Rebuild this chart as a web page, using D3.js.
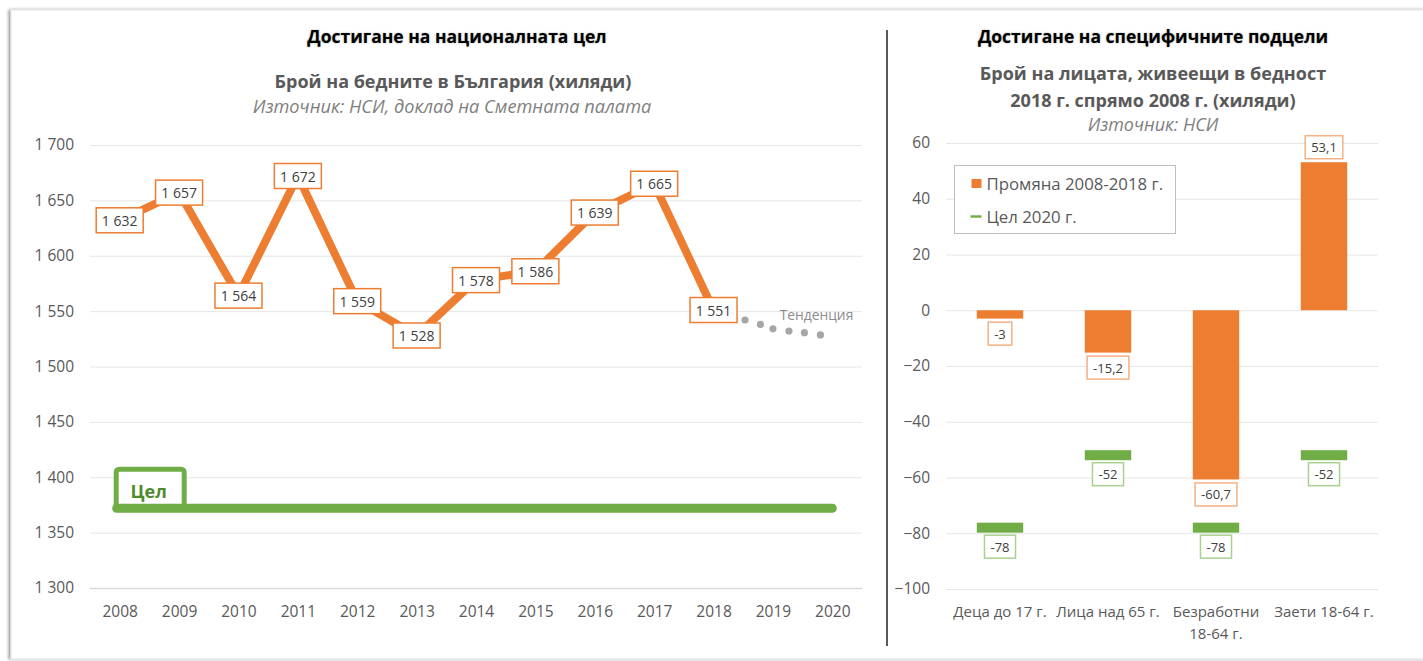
<!DOCTYPE html>
<html>
<head>
<meta charset="utf-8">
<script src="https://cdn.jsdelivr.net/npm/d3@7"></script>
<style>
    body { margin: 0; background: #ffffff; }
    svg { display: block; font-family: "Open Sans", sans-serif; }
    .main-title { font-weight: bold; fill: #000; text-shadow: 0 0 2px rgba(0,0,0,0.35); }
    .sub-title { font-weight: bold; fill: #595959; }
    .source { font-style: italic; fill: #7f7f7f; }
    .tick text { fill: #595959; }
</style>
</head>
<body>
<svg id="drawing"></svg>
<script>
// --- data: left chart (number of poor people, thousands)
const years = [2008, 2009, 2010, 2011, 2012, 2013, 2014, 2015, 2016, 2017, 2018, 2019, 2020];
const poor_years = [2008, 2009, 2010, 2011, 2012, 2013, 2014, 2015, 2016, 2017, 2018];
const poor_values = [1632, 1657, 1564, 1672, 1559, 1528, 1578, 1586, 1639, 1665, 1551];
const trend_years = [2018.53, 2018.79, 2019.0, 2019.27, 2019.53, 2019.8];
const trend_values = [1542, 1538, 1534, 1532, 1530.5, 1528.5];
const national_target = 1372;
const left_yticks = [1300, 1350, 1400, 1450, 1500, 1550, 1600, 1650, 1700];

// --- data: right chart (change 2018 vs 2008, thousands)
const groups = ['Деца до 17 г.', 'Лица над 65 г.', 'Безработни 18-64 г.', 'Заети 18-64 г.'];
const group_lines = [['Деца до 17 г.'], ['Лица над 65 г.'], ['Безработни', '18-64 г.'], ['Заети 18-64 г.']];
const change_values = [-3, -15.2, -60.7, 53.1];
const target_values = [-78, -52, -78, -52];
const right_yticks = [-100, -80, -60, -40, -20, 0, 20, 40, 60];

const ORANGE = '#ED7D31';
const GREEN = '#70AD47';
const GRID = '#e6e6e6';

const locale = d3.formatLocale({ decimal: ',', thousands: '\u00a0', grouping: [3], currency: ['', ''], minus: '-' });
const fmt_int = locale.format(',d');
const fmt_dec = v => String(v).replace('.', ',');

const svg = d3.select('#drawing').attr('width', 1423).attr('height', 661);

// card with a soft shadow
const defs = svg.append('defs');
const shadow = defs.append('filter').attr('id', 'shadow')
    .attr('x', '-5%').attr('y', '-5%').attr('width', '110%').attr('height', '110%');
shadow.append('feDropShadow').attr('dx', -2).attr('dy', 0).attr('stdDeviation', 1.5)
    .attr('flood-color', '#000').attr('flood-opacity', 0.4);

svg.append('rect')
    .attr('x', 11).attr('y', 10).attr('width', 1430).attr('height', 649)
    .attr('fill', '#fff').attr('stroke', '#e3e3e3')
    .attr('filter', 'url(#shadow)');

// divider
svg.append('line')
    .attr('x1', 887).attr('x2', 887).attr('y1', 30).attr('y2', 646)
    .attr('stroke', '#595959').attr('stroke-width', 2);

class LineChart {
    constructor(config) {
        this.config = {
            parent: config.parent,
            left: config.left,
            right: config.right,
            top: config.top,
            bottom: config.bottom
        };
        this.init();
    }

    init() {
        let self = this;
        self.chart = self.config.parent.append('g');

        self.xscale = d3.scaleLinear()
            .domain([years[0] - 0.5, years[years.length - 1] + 0.5])
            .range([self.config.left, self.config.right]);

        self.yscale = d3.scaleLinear()
            .domain([left_yticks[0], left_yticks[left_yticks.length - 1]])
            .range([self.config.bottom, self.config.top]);

        // titles
        self.chart.append('text').attr('class', 'main-title')
            .attr('x', 457).attr('y', 43).attr('text-anchor', 'middle')
            .style('font-size', '17.5px').text('Достигане на националната цел');
        self.chart.append('text').attr('class', 'sub-title')
            .attr('x', 453).attr('y', 88).attr('text-anchor', 'middle')
            .style('font-size', '18px').text('Брой на бедните в България (хиляди)');
        self.chart.append('text').attr('class', 'source')
            .attr('x', 452).attr('y', 113).attr('text-anchor', 'middle')
            .style('font-size', '18.2px').text('Източник: НСИ, доклад на Сметната палата');
    }

    render() {
        let self = this;
        const x = self.xscale, y = self.yscale;

        // grid + y labels
        const yaxis = d3.axisLeft(y)
            .tickValues(left_yticks)
            .tickSize(-(self.config.right - self.config.left))
            .tickPadding(16)
            .tickFormat(fmt_int);
        const yg = self.chart.append('g')
            .attr('transform', `translate(${self.config.left}, 0)`)
            .call(yaxis);
        yg.select('.domain').remove();
        yg.selectAll('.tick line').attr('stroke', d => d === left_yticks[0] ? '#d9d9d9' : GRID)
            .attr('stroke-width', d => d === left_yticks[0] ? 1.5 : 1);
        yg.selectAll('.tick text').style('font-size', '15.5px').style('font-family', '"Open Sans", sans-serif');

        // x labels
        const xaxis = d3.axisBottom(x)
            .tickValues(years)
            .tickSize(0)
            .tickPadding(18)
            .tickFormat(d3.format('d'));
        const xg = self.chart.append('g')
            .attr('transform', `translate(0, ${self.config.bottom})`)
            .call(xaxis);
        xg.select('.domain').remove();
        xg.selectAll('.tick text').style('font-size', '15.5px').style('font-family', '"Open Sans", sans-serif');

        // national target line and its "Цел" box
        const ty = y(national_target);
        const x0 = x(years[0]);
        self.chart.append('rect')
            .attr('x', x0 - 3.5).attr('y', ty - 39)
            .attr('width', 68).attr('height', 39)
            .attr('rx', 3)
            .attr('fill', '#fff').attr('stroke', GREEN).attr('stroke-width', 5);
        self.chart.append('line')
            .attr('x1', x0 - 3).attr('x2', x(years[years.length - 1]))
            .attr('y1', ty).attr('y2', ty)
            .attr('stroke', GREEN).attr('stroke-width', 9).attr('stroke-linecap', 'round');
        self.chart.append('text')
            .attr('x', x0 + 29).attr('y', ty - 17)
            .attr('text-anchor', 'middle').attr('dominant-baseline', 'central')
            .style('font-size', '18px').style('font-weight', 'bold')
            .attr('fill', '#4e8a2e').text('Цел');

        // trend dots
        self.chart.selectAll('.trend')
            .data(trend_years)
            .join('circle')
            .attr('class', 'trend')
            .attr('cx', d => x(d))
            .attr('cy', (d, i) => y(trend_values[i]))
            .attr('r', 3.6)
            .attr('fill', '#a6a6a6');
        self.chart.append('text')
            .attr('x', x(years[years.length - 1]) + 21)
            .attr('y', y(trend_values[0]) - 5)
            .attr('text-anchor', 'end').attr('dominant-baseline', 'central')
            .style('font-size', '13.8px').attr('fill', '#8c8c8c')
            .text('Тенденция');

        // main line
        const line = d3.line()
            .x((d, i) => x(poor_years[i]))
            .y(d => y(d));
        self.chart.append('path')
            .datum(poor_values)
            .attr('d', line)
            .attr('fill', 'none')
            .attr('stroke', ORANGE)
            .attr('stroke-width', 8)
            .attr('stroke-linejoin', 'miter');

        // value labels
        const lab = self.chart.selectAll('.vlabel')
            .data(poor_values)
            .join('g')
            .attr('class', 'vlabel')
            .attr('transform', (d, i) => `translate(${x(poor_years[i])}, ${y(d)})`);
        lab.append('rect')
            .attr('x', -23.5).attr('y', -12.5)
            .attr('width', 47).attr('height', 25)
            .attr('fill', '#fff').attr('stroke', ORANGE).attr('stroke-width', 1.5);
        lab.append('text')
            .attr('text-anchor', 'middle').attr('dominant-baseline', 'central')
            .style('font-size', '14px').attr('fill', '#404040')
            .text(d => fmt_int(d));
    }
}

class BarChart {
    constructor(config) {
        this.config = {
            parent: config.parent,
            left: config.left,
            right: config.right,
            top: config.top,
            bottom: config.bottom
        };
        this.init();
    }

    init() {
        let self = this;
        self.chart = self.config.parent.append('g');

        self.xscale = d3.scaleBand()
            .domain(groups)
            .range([self.config.left, self.config.right])
            .paddingInner(0.57)
            .paddingOuter(0.285);

        self.yscale = d3.scaleLinear()
            .domain([right_yticks[0], right_yticks[right_yticks.length - 1]])
            .range([self.config.bottom, self.config.top]);

        self.chart.append('text').attr('class', 'main-title')
            .attr('x', 1153).attr('y', 43).attr('text-anchor', 'middle')
            .style('font-size', '17.5px').text('Достигане на специфичните подцели');
        self.chart.append('text').attr('class', 'sub-title')
            .attr('x', 1153).attr('y', 80).attr('text-anchor', 'middle')
            .style('font-size', '18px').text('Брой на лицата, живеещи в бедност');
        self.chart.append('text').attr('class', 'sub-title')
            .attr('x', 1153).attr('y', 107).attr('text-anchor', 'middle')
            .style('font-size', '18px').text('2018 г. спрямо 2008 г. (хиляди)');
        self.chart.append('text').attr('class', 'source')
            .attr('x', 1153).attr('y', 131).attr('text-anchor', 'middle')
            .style('font-size', '18px').text('Източник: НСИ');
    }

    render() {
        let self = this;
        const x = self.xscale, y = self.yscale;
        const bw = x.bandwidth();

        const yaxis = d3.axisLeft(y)
            .tickValues(right_yticks)
            .tickSize(-(self.config.right - self.config.left))
            .tickPadding(16)
            .tickFormat(d3.format('d'));
        const yg = self.chart.append('g')
            .attr('transform', `translate(${self.config.left}, 0)`)
            .call(yaxis);
        yg.select('.domain').remove();
        yg.selectAll('.tick line').attr('stroke', GRID);
        yg.selectAll('.tick text').style('font-size', '15.5px').style('font-family', '"Open Sans", sans-serif');

        // category labels (wrapped)
        const xl = self.chart.selectAll('.cat')
            .data(groups)
            .join('text')
            .attr('class', 'cat')
            .attr('x', d => x(d) + bw / 2)
            .attr('y', self.config.bottom + 22)
            .attr('text-anchor', 'middle')
            .attr('dominant-baseline', 'central')
            .style('font-size', '15px').attr('fill', '#595959');
        xl.selectAll('tspan')
            .data((d, i) => group_lines[i].map(s => ({ s: s, c: d })))
            .join('tspan')
            .attr('x', d => x(d.c) + bw / 2)
            .attr('dy', (d, i) => i === 0 ? 0 : 22)
            .text(d => d.s);

        // bars
        self.chart.selectAll('.bar')
            .data(change_values)
            .join('rect')
            .attr('class', 'bar')
            .attr('x', (d, i) => x(groups[i]))
            .attr('y', d => y(Math.max(0, d)))
            .attr('width', bw)
            .attr('height', d => Math.abs(y(d) - y(0)))
            .attr('fill', ORANGE);

        // target marks
        self.chart.selectAll('.target')
            .data(target_values)
            .join('rect')
            .attr('class', 'target')
            .attr('x', (d, i) => x(groups[i]))
            .attr('y', d => y(d) - 5)
            .attr('width', bw)
            .attr('height', 10)
            .attr('fill', GREEN);

        // bar labels
        const bl = self.chart.selectAll('.blabel')
            .data(change_values)
            .join('g')
            .attr('class', 'blabel')
            .attr('transform', (d, i) => `translate(${x(groups[i]) + bw / 2}, ${d < 0 ? y(d) + 15 : y(d) - 15})`);
        self.label_box(bl, d => fmt_dec(d), '#F4B183');

        // target labels
        const tl = self.chart.selectAll('.tlabel')
            .data(target_values)
            .join('g')
            .attr('class', 'tlabel')
            .attr('transform', (d, i) => `translate(${x(groups[i]) + bw / 2}, ${y(d) + 19})`);
        self.label_box(tl, d => fmt_dec(d), '#A9D18E');

        // legend
        const lg = self.chart.append('g').attr('transform', 'translate(954.5, 165.5)');
        lg.append('rect').attr('width', 221).attr('height', 68)
            .attr('fill', '#fff').attr('stroke', '#bfbfbf').attr('stroke-width', 1);
        lg.append('rect').attr('x', 17).attr('y', 13.5).attr('width', 10).attr('height', 9).attr('fill', ORANGE);
        lg.append('text').attr('x', 32).attr('y', 18).attr('dominant-baseline', 'central')
            .style('font-size', '16.8px').attr('fill', '#595959').text('Промяна 2008-2018 г.');
        lg.append('line').attr('x1', 16).attr('x2', 27).attr('y1', 51).attr('y2', 51)
            .attr('stroke', GREEN).attr('stroke-width', 2.5);
        lg.append('text').attr('x', 32).attr('y', 51).attr('dominant-baseline', 'central')
            .style('font-size', '16.8px').attr('fill', '#595959').text('Цел 2020 г.');
    }

    label_box(sel, textfn, color) {
        sel.each(function (d) {
            const g = d3.select(this);
            const t = g.append('text')
                .attr('text-anchor', 'middle').attr('dominant-baseline', 'central')
                .style('font-size', '13px').attr('fill', '#404040')
                .text(textfn(d));
            const w = t.node().getComputedTextLength() + 12;
            g.insert('rect', 'text')
                .attr('x', -w / 2).attr('y', -11.5)
                .attr('width', w).attr('height', 23)
                .attr('fill', '#fff').attr('stroke', color).attr('stroke-width', 1.5);
        });
    }
}

const line_chart = new LineChart({ parent: svg, left: 90, right: 862, top: 145, bottom: 588 });
line_chart.render();

const bar_chart = new BarChart({ parent: svg, left: 946, right: 1378, top: 143, bottom: 589 });
bar_chart.render();
</script>
</body>
</html>
